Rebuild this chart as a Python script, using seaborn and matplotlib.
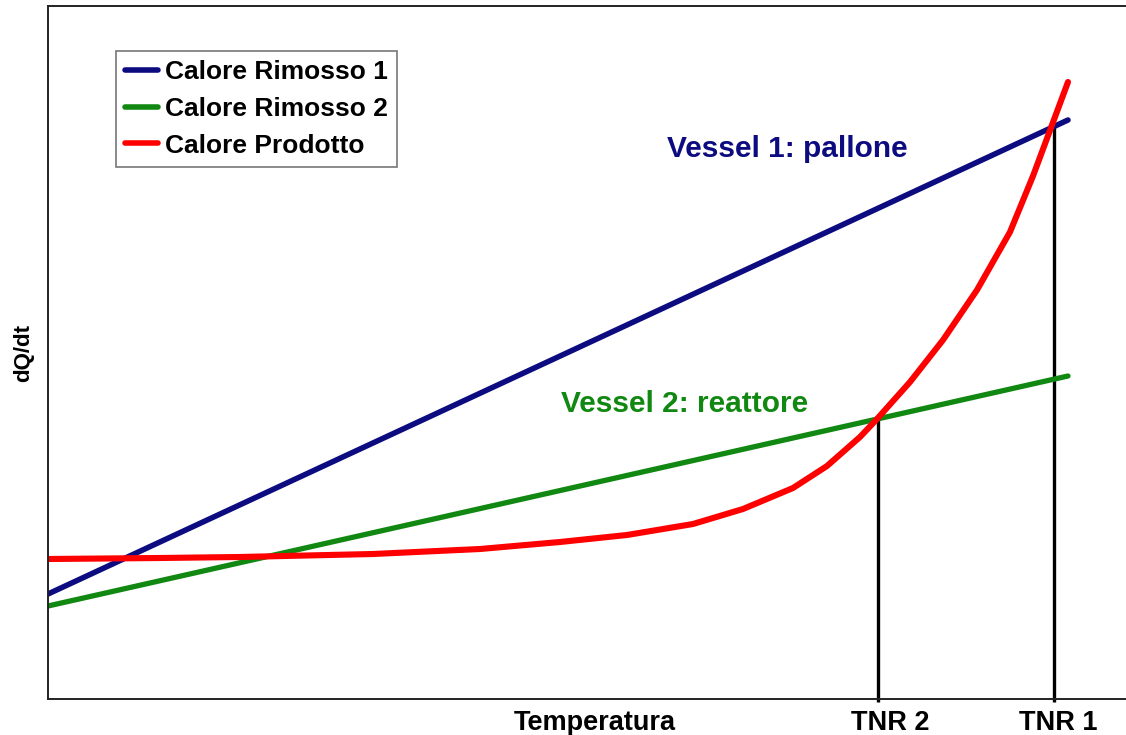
import numpy as np
import pandas as pd
import seaborn as sns
import matplotlib
matplotlib.use("Agg")
import matplotlib.pyplot as plt

# temperature axis (arbitrary units) and heat-rate curves
temp_lines = [0, 1020]
removed_1 = [105, 579]   # Calore Rimosso 1 (vessel 1: pallone)
removed_2 = [93, 323]    # Calore Rimosso 2 (vessel 2: reattore)

temp_prod = [0, 112, 192, 325, 432, 512, 579, 645, 695, 745, 779, 812, 829,
             862, 895, 929, 962, 985, 1004, 1020]
produced = [140, 141, 142, 145, 150, 157, 164, 175, 190, 211, 233, 262, 280,
            317, 359, 409, 467, 523, 574, 617]

# no-return temperatures and where they meet the curves
tnr_x = [830, 1006]
tnr_top = [280, 574]
tnr_labels = ["TNR 2", "TNR 1"]
label_x = [547, 842, 1010]

sns.set_style("white")
plt.rcParams['font.family'] = ['Liberation Sans', 'DejaVu Sans']
plt.rcParams['font.weight'] = 'bold'
plt.rcParams['text.color'] = 'black'
plt.rcParams['axes.labelcolor'] = 'black'
plt.rcParams['xtick.color'] = 'black'

fig = plt.figure(figsize=(11.26, 7.35), dpi=100)
ax = fig.add_axes([48 / 1126, 36 / 735, 1078 / 1126, 693 / 735])

df1 = pd.DataFrame({'T': temp_lines, 'Q': removed_1})
df2 = pd.DataFrame({'T': temp_lines, 'Q': removed_2})
df3 = pd.DataFrame({'T': temp_prod, 'Q': produced})

sns.lineplot(data=df1, x='T', y='Q', color='#0c0c80', lw=4.0, ax=ax, label='Calore Rimosso 1')
sns.lineplot(data=df2, x='T', y='Q', color='#118811', lw=3.8, ax=ax, label='Calore Rimosso 2')
sns.lineplot(data=df3, x='T', y='Q', color='#ff0000', lw=4.4, ax=ax, label='Calore Prodotto')

ax.vlines(tnr_x, -3, tnr_top, color='black', lw=2.4, clip_on=False, zorder=1)

ax.set_xlim(0, 1078)
ax.set_ylim(0, 693)

ax.text(619, 542, "Vessel 1: pallone", color='#0c0c80', fontsize=21.5,
        fontweight='bold', ha='left', va='baseline')
ax.text(513, 287, "Vessel 2: reattore", color='#118811', fontsize=21.5,
        fontweight='bold', ha='left', va='baseline')

ax.set_xticks(label_x)
ax.set_xticklabels(["Temperatura"] + tnr_labels, fontsize=19.5, fontweight='bold')
ax.tick_params(axis='x', length=0, pad=8)
ax.set_yticks([])
ax.set_xlabel("")
ax.set_ylabel("dQ/dt", fontsize=16, fontweight='bold')
ax.yaxis.set_label_coords(-0.013, 0.5)

for side in ['left', 'bottom', 'top']:
    ax.spines[side].set_color('#222222')
    ax.spines[side].set_linewidth(1.4)
ax.spines['right'].set_visible(False)

leg = ax.legend(loc='upper left', bbox_to_anchor=(68 / 1078, 648 / 693), borderaxespad=0,
                prop={'size': 19, 'weight': 'bold', 'family': 'Liberation Sans'},
                fancybox=False, frameon=True, handlelength=1.25,
                handletextpad=0.25, borderpad=0.35, labelspacing=0.48)
leg.get_frame().set_edgecolor('#555555')
leg.get_frame().set_linewidth(1.2)
for t in leg.get_texts():
    t.set_color('black')
for l in leg.get_lines():
    l.set_linewidth(4)

fig.savefig('out.png', dpi=100)
